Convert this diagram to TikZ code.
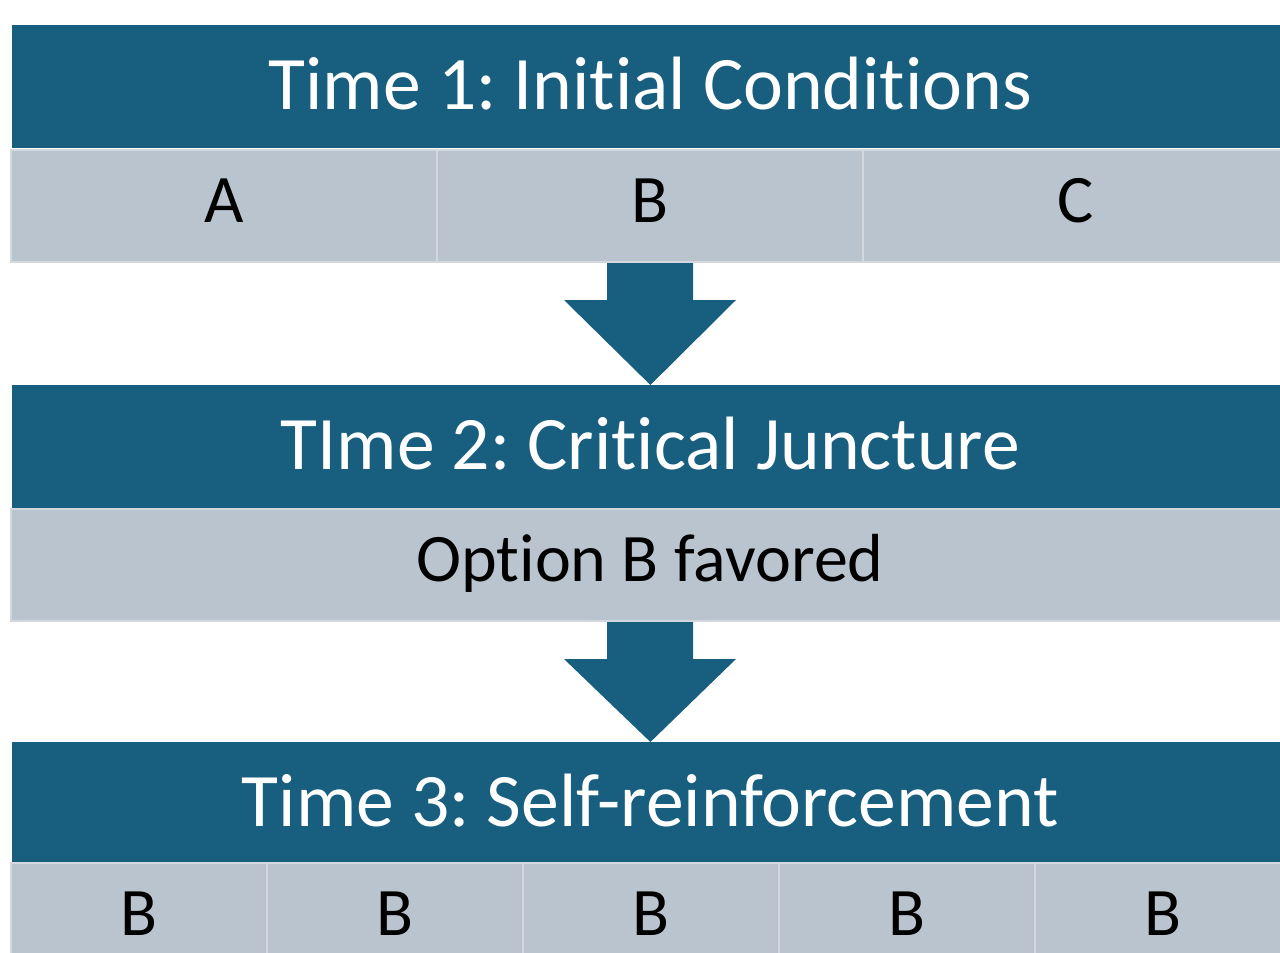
\documentclass[tikz,border=0pt]{standalone}
\usepackage{fontspec}
\setmainfont{Carlito}[RawFeature=-liga]
\usetikzlibrary{positioning,calc}
\definecolor{tone}{HTML}{175E7F}
\definecolor{pale}{HTML}{BAC4CE}
\definecolor{seam}{HTML}{D2D8DE}
\frenchspacing
\begin{document}
\begin{tikzpicture}[x=0.5pt,y=-0.5pt,
    head/.style={fill=tone, text=white, anchor=north west, inner sep=0pt,
        minimum width=638pt, minimum height=61.5pt, text height=25pt, text depth=2pt,
        font=\fontsize{37.8}{40}\selectfont},
    cell/.style={fill=pale, draw=seam, line width=1pt, anchor=north west, inner sep=0pt,
        minimum height=56pt, text height=22.5pt, text depth=6pt,
        font=\fontsize{34}{36}\selectfont}]
        \useasboundingbox (0,0) rectangle (1280,953);
        \clip (0,0) rectangle (1280,953);
        % stage 1
        \node[head] (h1) at (12,25) {Time 1: Initial Conditions};
        \node[cell, minimum width=213pt] (r1a) at (10,149) {A};
        \node[cell, minimum width=213pt] (r1b) at (436,149) {B};
        \node[cell, minimum width=213pt] (r1c) at (862,149) {C};
        % stage 2
        \node[head] (h2) at (12,385) {TIme 2: Critical Juncture};
        \node[cell, minimum width=639pt] (r2) at (10,508) {Option B favored};
        % stage 3
        \node[head] (h3) at (12,742) {Time 3: Self-reinforcement};
        \foreach \i in {0,...,4}{
            \node[cell, minimum width=128pt] (r3\i) at (10+256*\i,862) {B};
        }
        % block arrows
        \foreach \a/\b in {r1b/h2, r2/h3}{
            \fill[tone] ($(\a.south)+(-43,0)$) -- ($(\a.south)+(43,0)$) -- ($(\a.south)+(43,37)$)
                -- ($(\a.south)+(86,37)$) -- (\b.north) -- ($(\a.south)+(-86,37)$)
                -- ($(\a.south)+(-43,37)$) -- cycle;
        }
    \end{tikzpicture}
\end{document}
